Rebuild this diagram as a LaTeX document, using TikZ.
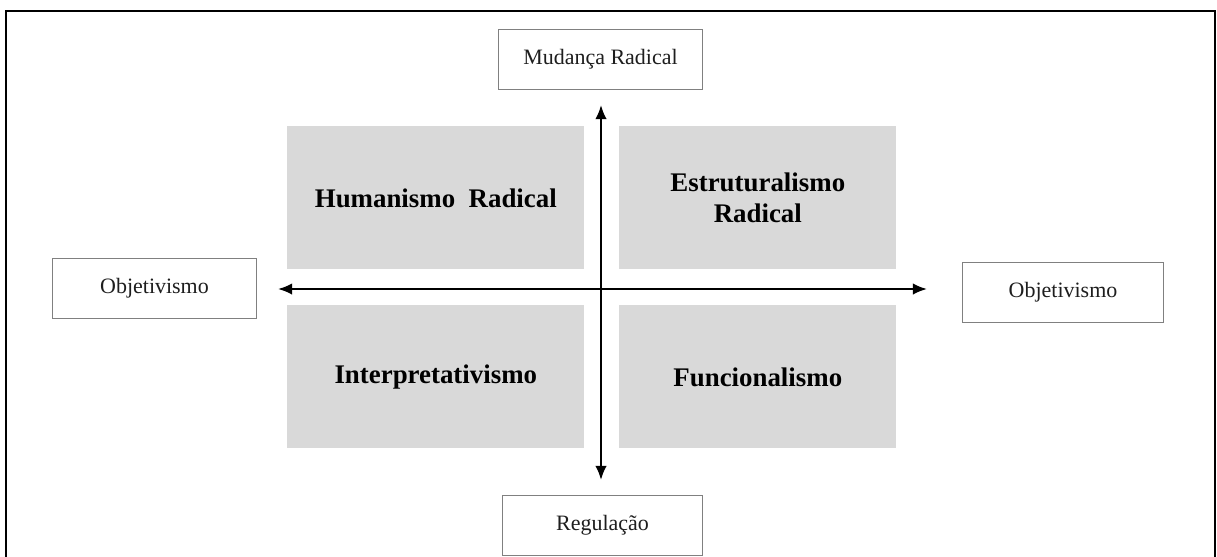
\documentclass[tikz,border=0pt]{standalone}
\usepackage{fontspec}
\setmainfont{Liberation Serif}
\usetikzlibrary{positioning,arrows.meta}
\definecolor{quadgray}{RGB}{217, 217, 217}
\definecolor{edgegray}{RGB}{128, 128, 128}
\definecolor{textdark}{RGB}{30, 30, 30}

\begin{document}
\begin{tikzpicture}[
  x=0.02cm, y=-0.02cm,
  quad/.style={
    fill=quadgray, draw=none, anchor=north west,
    minimum height=2.86cm, inner sep=0pt,
    align=center, font=\fontsize{15.3}{18}\selectfont\bfseries, text=black
  },
  lbl/.style={
    draw=edgegray, line width=0.6pt, fill=white, anchor=north west,
    minimum width=4.08cm, minimum height=1.2cm, inner sep=0pt,
    font=\fontsize{12.5}{15}\selectfont, text=textdark
  },
  arr/.style={{Latex[length=8pt,width=6.5pt]}-{Latex[length=8pt,width=6.5pt]}, line width=1.2pt, black}
]
\useasboundingbox (0,0) rectangle (1217,556);

%% -- outer frame --
\draw[line width=1.6pt] (6,560) -- (6,11) -- (1215,11) -- (1215,560);

%% -- quadrants --
\node[quad, minimum width=5.94cm] (hr) at (287,126) {Humanismo\ \ Radical};
\node[quad, minimum width=5.54cm] (er) at (619,126) {Estruturalismo\\Radical};
\node[quad, minimum width=5.94cm] (ip) at (287,305) {Interpretativismo};
\node[quad, minimum width=5.54cm] (fn) at (619,305) {Funcionalismo};

%% -- axis labels --
\node[lbl] (top) at (498,29) {Mudança Radical};
\node[lbl, minimum width=4.0cm] (bot) at (502,495) {Regulação};
\node[lbl] (left) at (52,258) {Objetivismo};
\node[lbl, minimum width=4.02cm] (right) at (962,262) {Objetivismo};

%% -- axes --
\coordinate (up) at (601,105);
\coordinate (down) at (601,480);
\coordinate (west) at (278,289);
\coordinate (east) at (927,289);
\draw[arr] (west) -- (east);
\draw[arr] (down) -- (up);

\end{tikzpicture}
\end{document}
